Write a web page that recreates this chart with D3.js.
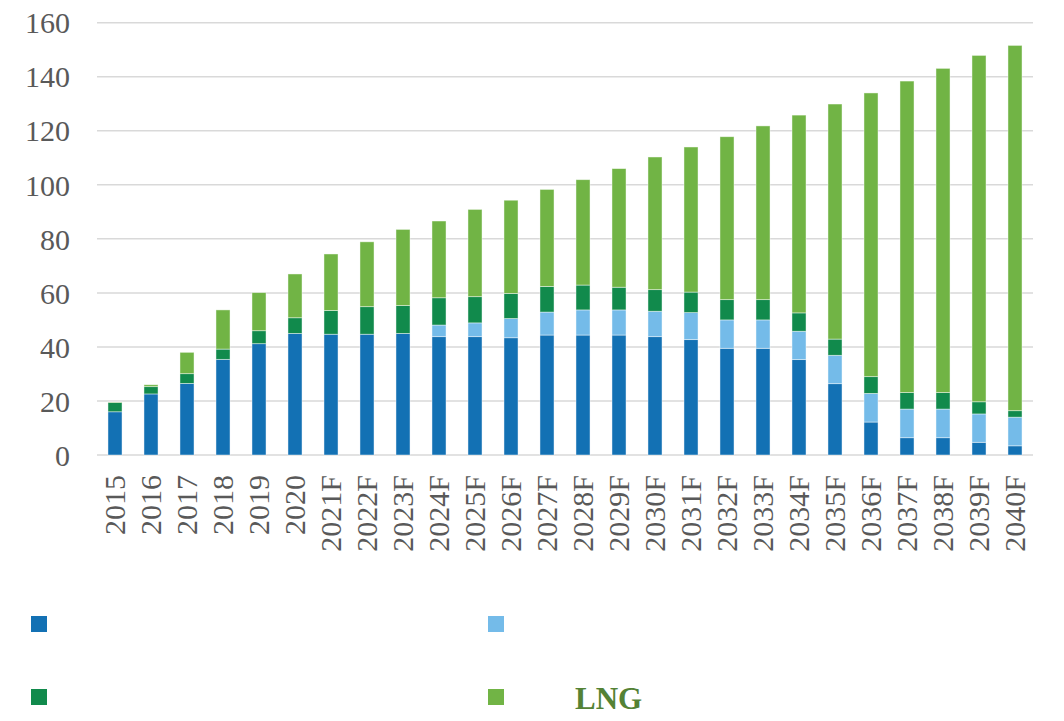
<!DOCTYPE html>
<html>
<head>
<meta charset="utf-8">
<script src="https://cdn.jsdelivr.net/npm/d3@7"></script>
<style>
  html, body { margin: 0; padding: 0; background: #fff; }
  svg { display: block; }
</style>
</head>
<body>
<svg id="chart" width="1064" height="721"></svg>
<script>
const categories = ["2015","2016","2017","2018","2019","2020","2021F","2022F","2023F","2024F","2025F","2026F","2027F","2028F","2029F","2030F","2031F","2032F","2033F","2034F","2035F","2036F","2037F","2038F","2039F","2040F"];
const seriesNames = ["s1", "s2", "s3", "LNG"];
const legendLabels = ["", "", "", "LNG"];
const darkBlue   = [16.0,22.6,26.5,35.4,41.2,45.0,44.7,44.7,45.0,43.8,43.8,43.4,44.4,44.4,44.4,43.8,42.7,39.5,39.5,35.3,26.4,12.2,6.4,6.4,4.7,3.4];
const lightBlue  = [0,0,0,0,0,0,0,0,0,4.3,5.1,7.1,8.5,9.3,9.3,9.4,10.0,10.5,10.5,10.5,10.5,10.6,10.6,10.6,10.5,10.6];
const darkGreen  = [3.4,2.7,3.6,3.8,4.8,5.8,8.8,10.2,10.3,10.1,9.7,9.3,9.5,9.2,8.4,8.0,7.6,7.5,7.5,6.8,6.0,6.2,6.1,6.1,4.5,2.4];
const lng        = [0.2,0.7,7.9,14.5,14.1,16.2,20.9,24.0,28.2,28.4,32.3,34.5,35.9,39.0,43.9,49.1,53.7,60.3,64.3,73.2,87.0,105.0,115.3,120.0,128.2,135.2];
const yTicks = [0,20,40,60,80,100,120,140,160];

const colors = ["#1371B4", "#74BBE9", "#118A4C", "#71B445"];

const svg = d3.select("#chart");
const plotLeft = 97, plotRight = 1033, plotTop = 22.7, plotBottom = 455;

const x = d3.scaleBand().domain(categories).range([plotLeft, plotRight]).paddingInner(0.61).paddingOuter(0.305);
const y = d3.scaleLinear().domain([0, 160]).range([plotBottom, plotTop]);

const rows = categories.map((c, i) => ({cat: c, s1: darkBlue[i], s2: lightBlue[i], s3: darkGreen[i], LNG: lng[i]}));
const stacked = d3.stack().keys(seriesNames)(rows);

// gridlines
svg.append("g").selectAll("line").data(yTicks).join("line")
  .attr("x1", plotLeft).attr("x2", plotRight)
  .attr("y1", d => y(d)).attr("y2", d => y(d))
  .attr("stroke", "#D9D9D9").attr("stroke-width", 1.5);

// y axis
const yAxis = d3.axisLeft(y).tickValues(yTicks).tickSize(0).tickPadding(0);
const gy = svg.append("g").attr("transform", "translate(70,0)").call(yAxis);
gy.select(".domain").remove();
gy.selectAll("text")
  .attr("font-family", "'Liberation Serif', 'Times New Roman', serif")
  .attr("font-size", 30).attr("fill", "#595959").attr("dy", "0.34em");

// bars
svg.append("g").selectAll("g").data(stacked).join("g")
  .attr("fill", (d, i) => colors[i])
  .selectAll("rect").data(d => d).join("rect")
  .attr("x", d => x(d.data.cat))
  .attr("width", x.bandwidth())
  .attr("y", d => y(d[1]))
  .attr("height", d => Math.max(0, y(d[0]) - y(d[1])))
  .attr("stroke", "rgba(255,255,255,0.55)")
  .attr("stroke-width", 0.8);

// x axis labels
const xAxis = d3.axisBottom(x).tickSize(0).tickPadding(0);
const gx = svg.append("g").attr("transform", `translate(0,${plotBottom})`).call(xAxis);
gx.select(".domain").remove();
gx.selectAll("text")
  .attr("font-family", "'Liberation Serif', 'Times New Roman', serif")
  .attr("font-size", 30).attr("fill", "#595959")
  .attr("text-anchor", "end")
  .attr("transform", "rotate(-90)")
  .attr("x", -20).attr("y", 0).attr("dy", "0.34em");

// legend
const legendPos = [[31, 616], [488, 616], [31, 689], [488, 689]];
const lg = svg.append("g");
legendPos.forEach((p, i) => {
  lg.append("rect").attr("x", p[0]).attr("y", p[1]).attr("width", 16).attr("height", 16).attr("fill", colors[i]);
  if (legendLabels[i]) {
    lg.append("text").attr("x", 575).attr("y", p[1] + 20)
      .attr("font-family", "'Liberation Serif', 'Times New Roman', serif")
      .attr("font-weight", "bold").attr("font-size", 31)
      .attr("fill", "#548235").text(legendLabels[i]);
  }
});
</script>
</body>
</html>
